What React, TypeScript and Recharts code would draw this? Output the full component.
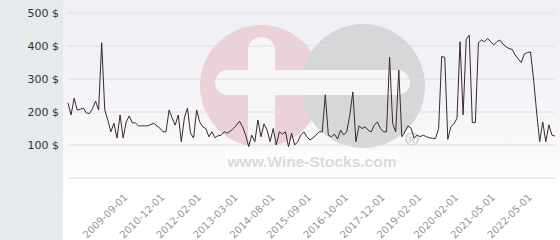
import React from "react";
import { LineChart, Line, XAxis, YAxis, CartesianGrid } from "recharts";

// monthly-ish price observations (USD)
const prices = [
  228, 191, 242, 206, 208, 212, 197, 195, 210, 233,
  206, 410, 206, 175, 140, 166, 121, 191, 121, 170,
  188, 167, 167, 158, 158, 158, 158, 162, 166, 158,
  151, 140, 140, 206, 182, 160, 191, 110, 182, 212,
  136, 121, 206, 170, 155, 150, 125, 140, 122, 128,
  130, 140, 136, 142, 150, 160, 172, 155, 130, 95,
  130, 110, 176, 125, 164, 145, 110, 150, 100, 140,
  133, 140, 95, 136, 100, 110, 130, 140, 125, 115,
  122, 130, 140, 140, 252, 130, 125, 133, 118, 145,
  130, 140, 190, 261, 110, 158, 150, 155, 145, 140,
  160, 170, 150, 140, 140, 366, 165, 140, 327, 125,
  140, 158, 151, 121, 130, 125, 130, 125, 122, 120,
  120, 150, 368, 366, 117, 155, 164, 181, 413, 191,
  420, 433, 168, 168, 410, 418, 413, 423, 413, 403,
  413, 418, 406, 398, 392, 390, 373, 360, 350, 376,
  380, 382, 300, 200, 110, 170, 110, 161, 130, 127,
];

const tickIdx = [19, 31, 43, 55, 67, 79, 91, 103, 115, 127, 139, 151];
const tickLabels = [
  "2009-09-01", "2010-12-01", "2012-02-01", "2013-03-01", "2014-08-01", "2015-09-01",
  "2016-10-01", "2017-12-01", "2019-02-01", "2020-02-01", "2021-05-01", "2022-05-01",
];
const yTicks = [0, 100, 200, 300, 400, 500];

const data = prices.map((p, i) => ({ i, price: p }));

const XTick = ({ x, y, payload }: any) => {
  const k = tickIdx.indexOf(payload.value);
  const ax = x + 2;
  const ay = y + 20;
  return (
    <text
      x={ax}
      y={ay}
      transform={`rotate(-45 ${ax} ${ay})`}
      textAnchor="end"
      fontSize={10}
      fontFamily="DejaVu Sans"
      fill="#959595"
    >
      {tickLabels[k]}
    </text>
  );
};

const Watermark = () => (
  <svg width={560} height={240} style={{ position: "absolute", left: 0, top: 0 }}>
    <circle cx={261} cy={86} r={61} fill="#ead2d8" />
    <circle cx={363} cy={86} r={62} fill="#d7d7d9" />
    <rect x={248} y={37} width={27} height={113} rx={13} fill="#f6f6f9" />
    <rect x={215} y={70} width={195} height={25} rx={12.5} fill="#f6f6f9" />
    <rect x={226} y={150} width={172} height={22} fill="#ffffff" opacity={0.5} />
    <circle cx={412} cy={139} r={6} fill="none" stroke="#d0d0d0" strokeWidth={1.5} />
    <text x={412} y={142.5} textAnchor="middle" fontSize={9} fontWeight="bold" fontFamily="Liberation Sans" fill="#d0d0d0">R</text>
    <text
      x={312}
      y={167}
      textAnchor="middle"
      fontSize={15.5}
      fontWeight="bold"
      fontFamily="Liberation Sans"
      fill="#dadada"
    >
      www.Wine-Stocks.com
    </text>
  </svg>
);

const App = () => {
  return (
    <div style={{ position: "absolute", left: 0, top: 0, width: 560, height: 240, overflow: "hidden" }}>
      <div style={{ position: "absolute", left: 0, top: 0, width: 63, height: 240, background: "#e6eaed" }} />
      <div
        style={{
          position: "absolute",
          left: 63,
          top: 0,
          width: 497,
          height: 240,
          background: "linear-gradient(to bottom, #eeeff4 0%, #f6f6f9 50%, #ffffff 85%)",
        }}
      />
      <Watermark />
      <div style={{ position: "absolute", left: 0, top: 0 }}>
        <LineChart width={560} height={240} data={data} margin={{ top: 13, right: 5, bottom: 0, left: 0 }}>
          <CartesianGrid vertical={false} stroke="#dcdde2" strokeWidth={1} />
          <XAxis
            dataKey="i"
            type="number"
            domain={[0, prices.length - 1]}
            ticks={tickIdx}
            interval={0}
            axisLine={false}
            tickLine={false}
            tickSize={0}
            tickMargin={0}
            height={62}
            tick={<XTick />}
          />
          <YAxis
            domain={[0, 500]}
            ticks={yTicks}
            width={68}
            axisLine={false}
            tickLine={false}
            tickSize={0}
            tickMargin={9}
            tickFormatter={(v: number) => (v === 0 ? "" : `${v} $`)}
            tick={{ fontSize: 11, fontFamily: "DejaVu Sans", fill: "#333" }}
          />
          <Line
            type="linear"
            dataKey="price"
            stroke="#3b2730"
            strokeWidth={1}
            dot={false}
            isAnimationActive={false}
          />
        </LineChart>
      </div>
    </div>
  );
};

export default App;
